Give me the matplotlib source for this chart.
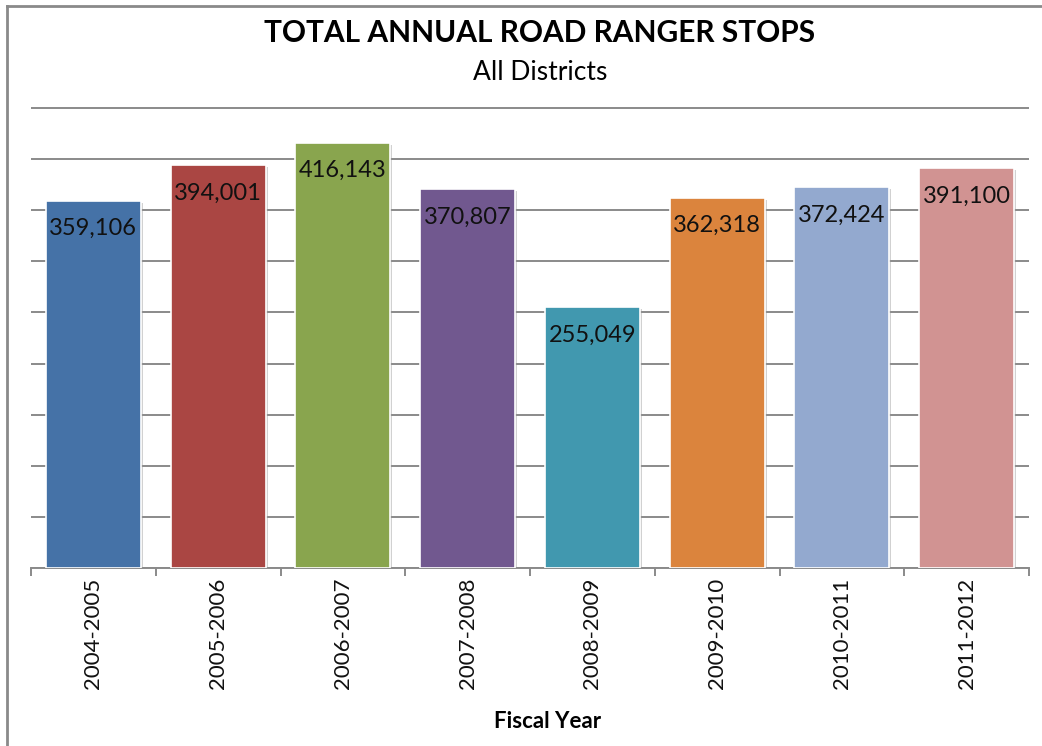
import matplotlib
matplotlib.use("Agg")
import matplotlib.pyplot as plt
import matplotlib.patheffects as pe
from matplotlib.lines import Line2D

categories = ["2004-2005", "2005-2006", "2006-2007", "2007-2008",
              "2008-2009", "2009-2010", "2010-2011", "2011-2012"]
stops = [359106, 394001, 416143, 370807, 255049, 362318, 372424, 391100]
colors = ["#4572A7", "#AA4643", "#89A54E", "#71588F",
          "#4198AF", "#DB843D", "#93A9CF", "#D19392"]

title = "TOTAL ANNUAL ROAD RANGER STOPS"
subtitle = "All Districts"
xlabel = "Fiscal Year"

plt.rcParams['font.family'] = ['Lato', 'DejaVu Sans']

W, H = 1042, 746
fig = plt.figure(figsize=(W / 100, H / 100), dpi=100)
fig.patch.set_facecolor("white")

# axes: x 31..1029, y 106..568 (pixels)
ax = fig.add_axes([31 / W, (H - 568) / H, (1029 - 31) / W, (568 - 106) / H])
ax.set_xlim(-0.5, len(categories) - 0.5)
ax.set_ylim(0, 452000)

ax.set_yticks(range(0, 450001, 50000))
ax.yaxis.grid(True, color="#8a8a8a", linewidth=1.4)
ax.set_axisbelow(True)
ax.tick_params(axis="y", left=False, labelleft=False)

xs = list(range(len(categories)))
bars = ax.bar(xs, stops, width=0.76, color=colors, edgecolor="white",
              linewidth=1.2, zorder=3)
for b in bars:
    b.set_path_effects([pe.SimplePatchShadow(offset=(1.5, -1.5), shadow_rgbFace="#999999", alpha=0.45),
                        pe.Normal()])

for x, v in zip(xs, stops):
    ax.annotate(f"{v:,}", xy=(x, v), xytext=(0, -12.5), textcoords="offset points",
                ha="center", va="top", fontsize=17, color="#111111", zorder=4)

for s in ["top", "right", "left"]:
    ax.spines[s].set_visible(False)
ax.spines["bottom"].set_color("#8a8a8a")
ax.spines["bottom"].set_linewidth(1.4)

ax.set_xticks(xs)
ax.set_xticklabels(categories, rotation=90, fontsize=16, color="#111111")
ax.set_xticks([x - 0.5 for x in range(len(categories) + 1)], minor=True)
ax.tick_params(axis="x", which="major", length=0, pad=7)
ax.tick_params(axis="x", which="minor", length=6, width=1.4, color="#8a8a8a")

fig.text(540 / W, 1 - 33 / H, title, ha="center", va="center",
         fontsize=21.5, fontweight="bold", color="#000000")
fig.text(540 / W, 1 - 73 / H, subtitle, ha="center", va="center",
         fontsize=19, color="#000000")
fig.text(548 / W, 1 - 722 / H, xlabel, ha="center", va="center",
         fontsize=16, fontweight="bold", color="#000000")

# chart border (left and top visible)
fig.add_artist(Line2D([7 / W, 7 / W], [0, 1 - 6 / H], transform=fig.transFigure,
                      color="#8a8a8a", linewidth=2))
fig.add_artist(Line2D([7 / W, 1], [1 - 6 / H, 1 - 6 / H], transform=fig.transFigure,
                      color="#8a8a8a", linewidth=2))

fig.savefig("out.png", dpi=100, facecolor="white")
